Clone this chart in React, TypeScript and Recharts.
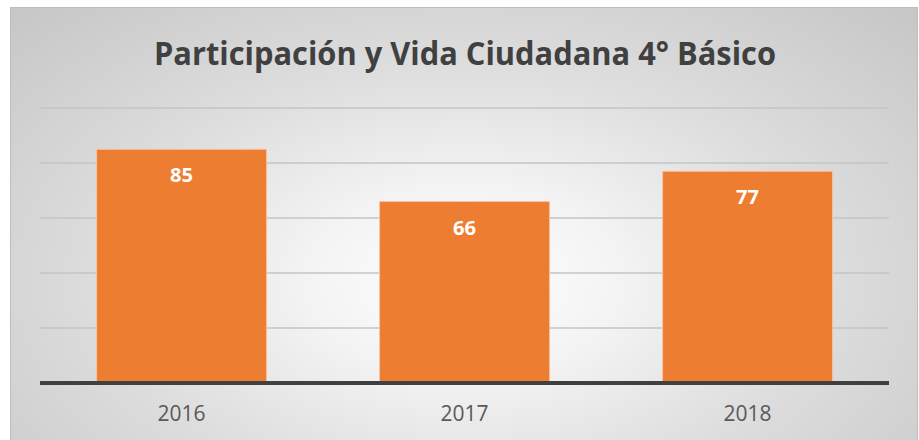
import { BarChart, Bar, XAxis, YAxis, CartesianGrid, LabelList } from "recharts";

const years = ["2016", "2017", "2018"];
const scores = [85, 66, 77];
const yTicks = [0, 20, 40, 60, 80, 100];

const chartData = years.map((year, i) => ({ year, score: scores[i] }));

const FONT = "'Open Sans', 'Noto Sans', sans-serif";

const YearTick = (props: any) => {
  const { x, y, payload } = props;
  return (
    <text
      x={x}
      y={y}
      dy={38}
      textAnchor="middle"
      fontFamily={FONT}
      fontSize={21}
      fill="#595959"
    >
      {payload.value}
    </text>
  );
};

const ValueLabel = (props: any) => {
  const { x, y, width, value } = props;
  return (
    <text
      x={x + width / 2}
      y={y + 33}
      textAnchor="middle"
      fontFamily={FONT}
      fontWeight="bold"
      fontSize={20}
      fill="#ffffff"
      textLength={23}
      lengthAdjust="spacingAndGlyphs"
    >
      {value}
    </text>
  );
};

export default function App() {
  return (
    <div style={{ position: "absolute", left: 0, top: 0, width: 919, height: 440, background: "#fff", overflow: "hidden" }}>
      <div
        style={{
          position: "absolute",
          left: 10,
          top: 7,
          width: 906,
          height: 440,
          border: "1px solid #bdbdbd",
          background:
            "radial-gradient(ellipse farthest-corner at 50% 62%, #ffffff 0%, #f3f3f3 25%, #dedede 55%, #c6c6c6 100%)",
        }}
      />
      <div style={{ position: "absolute", left: 0, top: 0 }}>
        <BarChart
          width={919}
          height={440}
          data={chartData}
          margin={{ top: 108, right: 30, left: 40, bottom: 0 }}
          barCategoryGap="20%"
        >
          <CartesianGrid vertical={false} stroke="#c4c4c4" strokeWidth={1.5} />
          <YAxis hide domain={[0, 100]} ticks={yTicks} />
          <XAxis
            dataKey="year"
            height={57}
            tickLine={false}
            tickSize={0}
            tickMargin={0}
            axisLine={{ stroke: "#404040", strokeWidth: 4 }}
            tick={<YearTick />}
          />
          <Bar dataKey="score" fill="#ED7D31" stroke="#f6c4a2" strokeWidth={1} isAnimationActive={false}>
            <LabelList dataKey="score" content={<ValueLabel />} />
          </Bar>
        </BarChart>
      </div>
      <svg width={919} height={440} style={{ position: "absolute", left: 0, top: 0, pointerEvents: "none" }}>
        <text
          x={465}
          y={65}
          textAnchor="middle"
          fontFamily={FONT}
          fontWeight="bold"
          fontSize={32}
          fill="#404040"
          textLength={622}
          lengthAdjust="spacingAndGlyphs"
        >
          Participación y Vida Ciudadana 4° Básico
        </text>
      </svg>
    </div>
  );
}
